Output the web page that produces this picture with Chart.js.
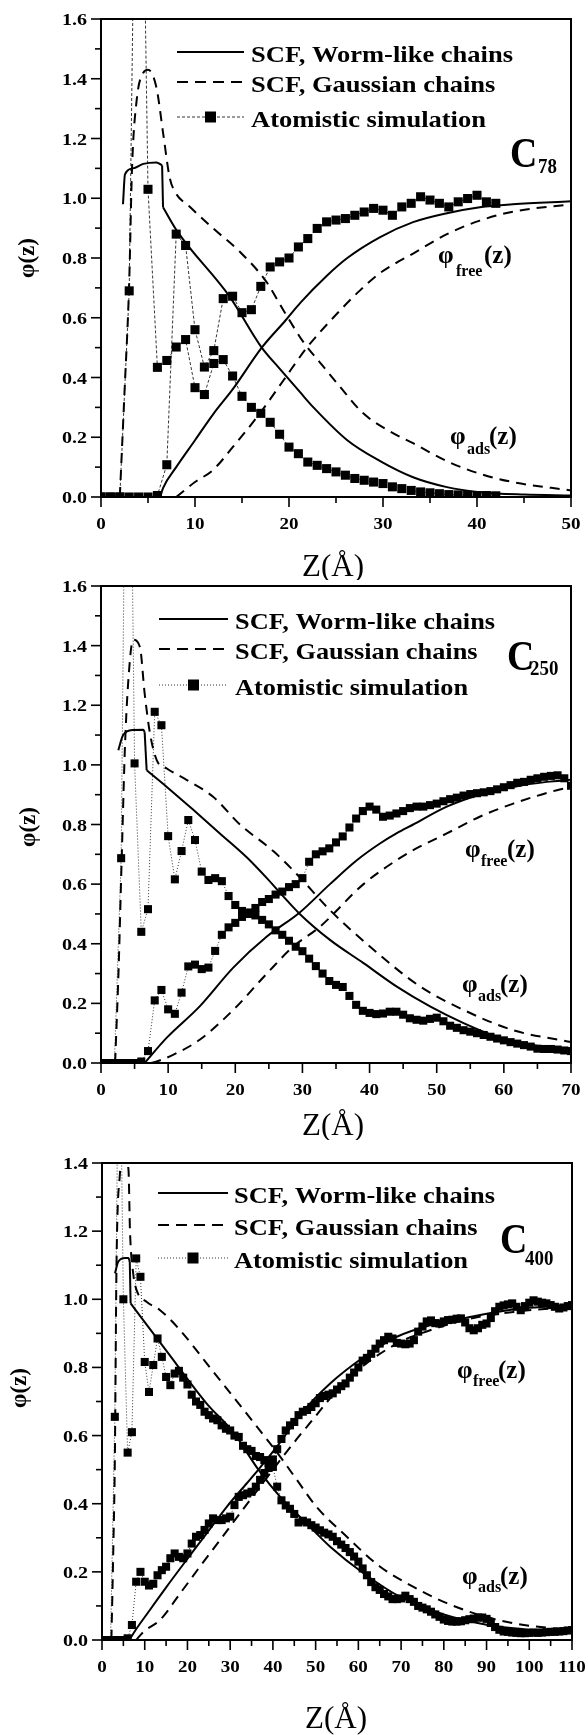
<!DOCTYPE html>
<html><head><meta charset="utf-8">
<script src="https://cdn.jsdelivr.net/npm/chart.js@4.4.1/dist/chart.umd.min.js"></script>
<style>
html,body{margin:0;padding:0;background:#fff;width:588px;height:1735px;overflow:hidden;position:relative;}
canvas{position:absolute;left:0;}
</style></head><body>
<canvas id="c1" width="588" height="580" style="top:0px;width:588px;height:580px"></canvas>
<canvas id="c2" width="588" height="574" style="top:566px;width:588px;height:574px"></canvas>
<canvas id="c3" width="588" height="592" style="top:1143px;width:588px;height:592px"></canvas>
<script>
// ---------- Panel 1 : C78 ----------
const wlcAdsZ1 = [2.34,2.55,3.4,4.5,5.9,6.5,6.6,8.1,13.7,17.1,19.0,21.2,22.6,26.2,29.7,33.2,36.8,40.3,45,50];
const wlcAds1  = [0.98,1.08,1.10,1.115,1.12,1.11,0.97,0.89,0.67,0.50,0.43,0.35,0.30,0.19,0.12,0.066,0.033,0.016,0.008,0.005];
const wlcFreeZ1 = [0,6.3,6.6,8,10,12,14,17.1,19.6,21.2,24,26.2,29.7,33.2,36.8,40.3,43.8,50];
const wlcFree1  = [0,0,0.03,0.10,0.19,0.28,0.36,0.50,0.59,0.65,0.74,0.80,0.87,0.92,0.95,0.97,0.98,0.99];
const gAdsZ1 = [0,2.0,2.5,3.0,3.3,3.8,4.5,5.0,5.9,6.6,7.3,7.9,9.5,11.9,14.8,17.6,19.5,21.5,23.3,25.4,27.9,30.7,33.2,36.8,40.3,43.8,50];
const gAds1  = [0,0,0.35,0.72,1.1,1.33,1.42,1.43,1.37,1.22,1.07,1.02,0.97,0.90,0.82,0.72,0.62,0.52,0.45,0.37,0.28,0.22,0.18,0.12,0.078,0.05,0.022];
const gFreeZ1 = [0,8,8.8,10,11.9,14.1,16.9,19.4,21.9,24.7,27.5,29.7,33.2,36.8,40.3,43.8,50];
const gFree1  = [0,0,0.02,0.05,0.09,0.17,0.28,0.39,0.50,0.60,0.69,0.75,0.815,0.88,0.925,0.955,0.98];
const atomAds1 = [0,0,0,0.69,3.1,1.03,0.434,0.457,0.502,0.527,0.366,0.343,0.447,0.46,0.405,0.337,0.30,0.28,0.25,0.21,0.167,0.145,0.117,0.106,0.095,0.084,0.073,0.062,0.056,0.05,0.045,0.034,0.028,0.022,0.017,0.014,0.011,0.008,0.007,0.006,0.005,0.005,0.004];
const atomFree1 = [0,0,0,0,0,0,0.005,0.108,0.88,0.842,0.56,0.435,0.49,0.664,0.672,0.617,0.627,0.705,0.77,0.787,0.80,0.837,0.865,0.899,0.921,0.927,0.932,0.943,0.954,0.966,0.96,0.943,0.971,0.983,1.005,0.994,0.983,0.971,0.988,0.999,1.01,0.988,0.983];

// ---------- Panel 2 : C250 ----------
const wlcAdsZ2 = [2.58,3.3,4.8,6.3,6.5,6.8,9.8,13.7,17.7,21.7,24.7,26.7,29.6,34.1,39.1,44.0,49.0,54.0,58.9,63.9,70];
const wlcAds2  = [1.049,1.10,1.117,1.118,1.11,0.982,0.926,0.85,0.77,0.69,0.62,0.57,0.50,0.413,0.335,0.257,0.19,0.134,0.089,0.061,0.045];
const wlcFreeZ2 = [0,6.5,9.8,14.7,19.7,24.7,29.6,34.1,38.1,41.6,44,46.5,51.5,56.4,61.4,66.4,70];
const wlcFree2  = [0,0,0.085,0.19,0.32,0.424,0.505,0.60,0.68,0.737,0.77,0.80,0.86,0.90,0.926,0.943,0.95];
const gAdsZ2 = [0,2.1,2.6,3.1,3.6,4.3,4.8,5.8,6.5,7.3,8.3,9.8,12.8,16.7,20.7,25.7,29.1,34.1,40.6,47.5,54.0,61.4,70];
const gAds2  = [0,0,0.3,0.70,1.08,1.35,1.42,1.395,1.24,1.105,1.016,0.988,0.949,0.893,0.80,0.71,0.635,0.513,0.38,0.257,0.178,0.11,0.07];
const gFreeZ2 = [0,7.5,8.3,10.8,14.7,19.7,24.7,28.6,32.6,39.1,44,46.5,51.5,56.4,61.4,67.9,70];
const gFree2  = [0,0,0.005,0.028,0.078,0.178,0.30,0.39,0.457,0.60,0.68,0.714,0.77,0.826,0.87,0.915,0.925];
const atomAds2 = [0,0,0,0.687,3.0,1.005,0.44,0.516,1.178,1.133,0.761,0.616,0.711,0.815,0.748,0.642,0.614,0.62,0.61,0.56,0.53,0.51,0.50,0.495,0.48,0.465,0.445,0.43,0.41,0.39,0.375,0.35,0.325,0.30,0.275,0.262,0.255,0.225,0.195,0.175,0.168,0.164,0.166,0.172,0.172,0.162,0.15,0.145,0.142,0.148,0.152,0.14,0.125,0.118,0.11,0.105,0.10,0.094,0.088,0.082,0.076,0.07,0.065,0.06,0.055,0.048,0.047,0.047,0.045,0.042,0.04];
const atomFree2 = [0,0,0,0,0,0,0.005,0.04,0.21,0.245,0.18,0.165,0.236,0.324,0.33,0.315,0.32,0.376,0.43,0.455,0.47,0.49,0.505,0.52,0.54,0.55,0.565,0.575,0.59,0.60,0.62,0.675,0.70,0.71,0.72,0.74,0.76,0.79,0.82,0.845,0.86,0.85,0.826,0.83,0.837,0.845,0.855,0.86,0.86,0.865,0.87,0.878,0.885,0.89,0.897,0.902,0.905,0.908,0.912,0.918,0.925,0.932,0.94,0.943,0.95,0.955,0.96,0.963,0.965,0.955,0.93];

// ---------- Panel 3 : C400 ----------
const wlcAdsZ3 = [3.04,3.8,5.4,6.2,6.5,6.7,15,24.5,30.7,36.6,41.7,47.9,53.4,61.2,70,80,90,100,110];
const wlcAds3  = [1.076,1.11,1.121,1.121,1.11,0.988,0.85,0.694,0.61,0.50,0.42,0.342,0.274,0.196,0.125,0.075,0.045,0.03,0.02];
const wlcFreeZ3 = [0,6.5,6.9,11.2,15.1,19.8,24.5,29.2,33.9,36.6,41.7,46.3,53.4,61.2,69,76.8,84.6,92.4,100,110];
const wlcFree3  = [0,0,0.01,0.088,0.156,0.235,0.313,0.391,0.46,0.50,0.58,0.66,0.753,0.83,0.89,0.924,0.944,0.963,0.975,0.983];
const gAdsZ3 = [0,2.2,2.7,3.0,3.4,4.2,4.6,5.5,6.2,6.55,7.3,8.1,10.5,13.6,18.3,24.5,30.7,35.4,41.7,45.6,50.2,57.3,65.1,72.9,80.7,88.5,96.3,110];
const gAds3  = [0,0,0.3,0.52,1.105,1.37,1.41,1.41,1.38,1.20,1.076,1.027,0.992,0.968,0.909,0.812,0.714,0.64,0.538,0.47,0.391,0.303,0.215,0.156,0.108,0.073,0.049,0.029];
const gFreeZ3 = [0,8,9.7,13.6,18.3,22.9,27.6,32.3,37.0,41.7,45.6,47.9,57.3,69,76.8,84.6,96.3,110];
const gFree3  = [0,0,0.024,0.059,0.137,0.215,0.293,0.372,0.45,0.528,0.59,0.625,0.763,0.87,0.909,0.939,0.963,0.978];
const atomAds3 = [0,0,0,0.655,2.0,1.0,0.55,0.61,1.12,1.066,0.816,0.728,0.807,0.885,0.831,0.772,0.748,0.782,0.79,0.77,0.75,0.72,0.70,0.69,0.67,0.66,0.65,0.645,0.63,0.62,0.615,0.60,0.596,0.57,0.56,0.555,0.54,0.537,0.528,0.52,0.508,0.45,0.41,0.395,0.385,0.37,0.345,0.35,0.345,0.337,0.33,0.322,0.315,0.31,0.303,0.29,0.28,0.27,0.258,0.245,0.23,0.21,0.19,0.17,0.155,0.147,0.135,0.128,0.12,0.12,0.122,0.13,0.12,0.112,0.10,0.095,0.09,0.083,0.075,0.068,0.06,0.056,0.054,0.054,0.055,0.058,0.061,0.063,0.066,0.066,0.062,0.05,0.038,0.03,0.025,0.024,0.022,0.021,0.02,0.02,0.021,0.022,0.021,0.022,0.023,0.024,0.024,0.025,0.026,0.028,0.029];
const atomFree3 = [0,0,0,0,0,0,0.005,0.044,0.171,0.20,0.171,0.16,0.165,0.19,0.205,0.215,0.24,0.254,0.244,0.24,0.254,0.283,0.303,0.308,0.323,0.342,0.357,0.352,0.352,0.357,0.362,0.396,0.42,0.425,0.43,0.435,0.45,0.47,0.49,0.505,0.53,0.56,0.59,0.615,0.63,0.64,0.66,0.67,0.675,0.684,0.695,0.71,0.716,0.72,0.724,0.735,0.745,0.753,0.77,0.785,0.80,0.82,0.828,0.84,0.855,0.87,0.88,0.89,0.885,0.872,0.87,0.868,0.87,0.88,0.905,0.92,0.935,0.938,0.93,0.929,0.935,0.939,0.94,0.943,0.944,0.932,0.915,0.909,0.915,0.925,0.929,0.945,0.965,0.978,0.982,0.985,0.988,0.978,0.968,0.98,0.99,0.997,0.993,0.99,0.988,0.983,0.978,0.973,0.976,0.98,0.983];

// ---------- text ----------
const legendLabels = ['SCF, Worm-like chains', 'SCF, Gaussian chains', 'Atomistic simulation'];
const yTitle = 'φ(z)';
const xTitle = 'Z(Å)';

const SERIF = '"Liberation Serif", "Times New Roman", Times, serif';

// a curve split into smooth pieces at the given break indices (sharp corners there)
function curveDs(zs, vs, dash, breaks) {
  const cuts = [0].concat(breaks, [zs.length - 1]);
  const out = [];
  for (let k = 0; k < cuts.length - 1; k++) {
    const pts = [];
    for (let i = cuts[k]; i <= cuts[k + 1]; i++) pts.push({ x: zs[i], y: vs[i] });
    out.push({ data: pts, borderColor: '#000', borderWidth: 2, borderDash: dash, pointRadius: 0,
      cubicInterpolationMode: 'monotone', fill: false, clip: 0, borderCapStyle: 'butt' });
  }
  return out;
}
function atomDs(vs, dash, r) {
  return { data: vs.map((v, i) => ({ x: i, y: v })), borderColor: '#000', borderWidth: 0.8,
    borderDash: dash, pointStyle: 'rect', pointRadius: r, pointBackgroundColor: '#000',
    pointBorderWidth: 0, pointBorderColor: '#000', tension: 0, fill: false, clip: 0 };
}
function txt(ctx, s, x, y, font, sx, align) {
  ctx.save(); ctx.font = font; ctx.textAlign = align || 'left'; ctx.textBaseline = 'alphabetic';
  ctx.translate(x, y); ctx.scale(sx || 1, 1); ctx.fillText(s, 0, 0); ctx.restore();
}
function phiLabel(ctx, sub, x, b, subX, parX, subDy) {
  txt(ctx, 'φ', x, b, 'bold 25px ' + SERIF);
  txt(ctx, sub, subX, b + subDy, 'bold 16px ' + SERIF);
  txt(ctx, '(z)', parX, b, 'bold 25px ' + SERIF);
}

function decor(cfg) {
  return { id: 'decor', afterDraw(chart) {
    const { ctx, chartArea: a, scales: { x, y } } = chart;
    ctx.save();
    ctx.fillStyle = '#000'; ctx.strokeStyle = '#000';
    ctx.lineWidth = 2; ctx.setLineDash([]);
    ctx.strokeRect(a.left, a.top, a.right - a.left, a.bottom - a.top);
    ctx.lineWidth = 1.6;
    const nx = Math.round(cfg.xMax / 5);
    for (let i = 0; i <= nx; i++) {
      const px = x.getPixelForValue(i * 5); const L = i % 2 === 0 ? 10 : 6;
      ctx.beginPath(); ctx.moveTo(px, a.bottom); ctx.lineTo(px, a.bottom + L); ctx.stroke();
    }
    const ny = Math.round(cfg.yMax / 0.1);
    for (let i = 0; i <= ny; i++) {
      const py = y.getPixelForValue(i * 0.1); const L = i % 2 === 0 ? 10 : 6;
      ctx.beginPath(); ctx.moveTo(a.left, py); ctx.lineTo(a.left - L, py); ctx.stroke();
    }
    // tick labels from the library's ticks
    const tf = 'bold 17px ' + SERIF;
    x.ticks.forEach((t, i) => {
      const px = x.getPixelForTick(i);
      txt(ctx, String(Math.round(t.value)), px, a.bottom + 32, tf, 1.12, 'center');
    });
    y.ticks.forEach((t, i) => {
      const py = y.getPixelForTick(i);
      txt(ctx, (Math.round(t.value * 10) / 10).toFixed(1), a.left - 14, py + 6, tf, 1.18, 'right');
    });
    // legend
    const lg = cfg.legend;
    ctx.lineWidth = 2.2; ctx.setLineDash([]);
    ctx.beginPath(); ctx.moveTo(lg.x1, lg.ys[0]); ctx.lineTo(lg.x2, lg.ys[0]); ctx.stroke();
    ctx.setLineDash([11, 7]);
    ctx.beginPath(); ctx.moveTo(lg.x1, lg.ys[1]); ctx.lineTo(lg.x2, lg.ys[1]); ctx.stroke();
    ctx.lineWidth = 0.8; ctx.setLineDash(cfg.atomDash);
    ctx.beginPath(); ctx.moveTo(lg.x1, lg.ys[2]); ctx.lineTo(lg.x2, lg.ys[2]); ctx.stroke();
    ctx.setLineDash([]);
    const mx = (lg.x1 + lg.x2) / 2;
    ctx.fillRect(mx - 5.5, lg.ys[2] - 5.5, 11, 11);
    ctx.font = 'bold 23px ' + SERIF;
    const sx = lg.w / ctx.measureText(legendLabels[0]).width;
    legendLabels.forEach((s, i) => txt(ctx, s, lg.tx, lg.ys[i] + 10, 'bold 23px ' + SERIF, sx));
    // C label
    txt(ctx, 'C', cfg.cLab.x, cfg.cLab.b, 'bold 42px ' + SERIF, 0.9);
    txt(ctx, cfg.cLab.sub, cfg.cLab.sx, cfg.cLab.sb, 'bold 21px ' + SERIF, 0.9);
    // phi labels
    const f = cfg.free, d = cfg.ads;
    phiLabel(ctx, 'free', f.x, f.b, f.sx, f.px, f.dy);
    phiLabel(ctx, 'ads', d.x, d.b, d.sx, d.px, d.dy);
    // axis titles
    ctx.save();
    ctx.translate(cfg.yT.x, cfg.yT.y); ctx.rotate(-Math.PI / 2);
    ctx.font = 'bold 23px ' + SERIF; ctx.textAlign = 'center'; ctx.textBaseline = 'middle';
    ctx.fillText(yTitle, 0, 0);
    ctx.restore();
    txt(ctx, xTitle, cfg.xT.x, cfg.xT.b, '31px ' + SERIF, 1, 'center');
    ctx.restore();
  } };
}

function makePanel(id, cfg) {
  const ds = [].concat(
    curveDs(cfg.wz, cfg.wa, [], cfg.wBreaks), curveDs(cfg.wfz, cfg.wf, [], [1]),
    curveDs(cfg.gz, cfg.ga, [10, 7], [1]), curveDs(cfg.gfz, cfg.gf, [10, 7], [1]),
    [atomDs(cfg.aa, cfg.atomDash, cfg.r), atomDs(cfg.af, cfg.atomDash, cfg.r)]);
  new Chart(document.getElementById(id), {
    type: 'line',
    data: { datasets: ds },
    options: {
      responsive: false, animation: false, events: [],
      layout: { padding: { top: cfg.padTop, right: cfg.padRight, left: 0, bottom: 0 } },
      plugins: { legend: { display: false }, tooltip: { enabled: false } },
      scales: {
        x: { type: 'linear', min: 0, max: cfg.xMax,
          afterFit: s => { s.height = cfg.xAxisH; },
          grid: { display: false, drawTicks: false }, border: { display: false },
          ticks: { display: false, stepSize: 10, autoSkip: false, maxRotation: 0 } },
        y: { type: 'linear', min: 0, max: cfg.yMax,
          afterFit: s => { s.width = cfg.yAxisW; },
          grid: { display: false, drawTicks: false }, border: { display: false },
          ticks: { display: false, stepSize: 0.2 } }
      }
    },
    plugins: [decor(cfg)]
  });
}

makePanel('c1', {
  wz: wlcAdsZ1, wa: wlcAds1, wBreaks: [5, 6], wfz: wlcFreeZ1, wf: wlcFree1, gz: gAdsZ1, ga: gAds1, gfz: gFreeZ1, gf: gFree1,
  aa: atomAds1, af: atomFree1, atomDash: [3, 2], r: 6.4,
  xMax: 50, yMax: 1.6, padTop: 19, padRight: 17, xAxisH: 83, yAxisW: 101,
  legend: { x1: 177, x2: 244, tx: 251, ys: [52, 82, 117], w: 262 },
  cLab: { x: 510, b: 167, sub: '78', sx: 538, sb: 173 },
  free: { x: 438, b: 263, sx: 456, px: 484, dy: 13 },
  ads: { x: 450, b: 444, sx: 467, px: 489, dy: 10 },
  yT: { x: 28, y: 258 }, xT: { x: 333, b: 576 }
});
makePanel('c2', {
  wz: wlcAdsZ2, wa: wlcAds2, wBreaks: [4, 5], wfz: wlcFreeZ2, wf: wlcFree2, gz: gAdsZ2, ga: gAds2, gfz: gFreeZ2, gf: gFree2,
  aa: atomAds2, af: atomFree2, atomDash: [1, 2], r: 5.7,
  xMax: 70, yMax: 1.6, padTop: 20, padRight: 17, xAxisH: 77, yAxisW: 101,
  legend: { x1: 159, x2: 228, tx: 235, ys: [53, 83, 119], w: 260 },
  cLab: { x: 507, b: 104, sub: '250', sx: 530, sb: 109 },
  free: { x: 465, b: 291, sx: 481, px: 507, dy: 9 },
  ads: { x: 462, b: 426, sx: 478, px: 500, dy: 9 },
  yT: { x: 29, y: 261 }, xT: { x: 333, b: 569 }
});
makePanel('c3', {
  wz: wlcAdsZ3, wa: wlcAds3, wBreaks: [4, 5], wfz: wlcFreeZ3, wf: wlcFree3, gz: gAdsZ3, ga: gAds3, gfz: gFreeZ3, gf: gFree3,
  aa: atomAds3, af: atomFree3, atomDash: [1, 2], r: 5.7,
  xMax: 110, yMax: 1.4, padTop: 20, padRight: 16, xAxisH: 95, yAxisW: 102,
  legend: { x1: 158, x2: 228, tx: 234, ys: [50, 82, 115], w: 261 },
  cLab: { x: 500, b: 110, sub: '400', sx: 525, sb: 122 },
  free: { x: 457, b: 235, sx: 473, px: 498, dy: 8 },
  ads: { x: 462, b: 441, sx: 478, px: 500, dy: 8 },
  yT: { x: 20, y: 245 }, xT: { x: 336, b: 585 }
});
</script>
</body></html>
